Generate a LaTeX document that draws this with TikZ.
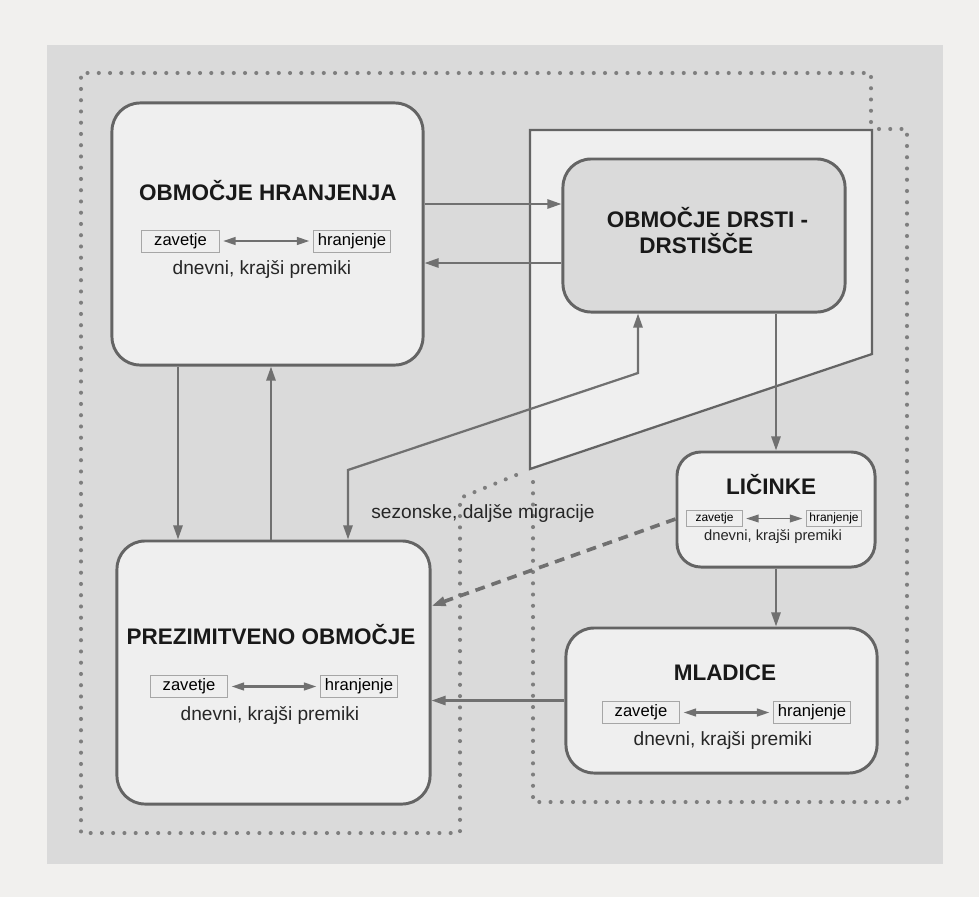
\documentclass[tikz,border=0pt]{standalone}
\usepackage{fontspec}
\setmainfont{Liberation Sans}
\usetikzlibrary{arrows.meta}

\definecolor{papir}{HTML}{F1F0EE}
\definecolor{podlaga}{HTML}{DADADA}
\definecolor{polnilo}{HTML}{EFEFEF}
\definecolor{obroba}{HTML}{646464}
\definecolor{puscica}{HTML}{707070}
\definecolor{pike}{HTML}{7E7E7E}

\tikzset{
  >={Triangle[length=10pt,width=6.5pt]},
  okvir/.style={draw=obroba, line width=2.1pt, fill=polnilo, rounded corners=20pt, inner sep=0pt},
  naslov/.style={font=\bfseries\fontsize{16}{18}\selectfont, text=black!90},
  opis/.style={font=\fontsize{13.6}{16}\selectfont, text=black!85},
  malopis/.style={font=\fontsize{10.5}{12}\selectfont, text=black!85},
  celica/.style={draw=black!35, line width=0.6pt, fill=polnilo, minimum width=1.93cm, minimum height=0.55cm, inner sep=0pt, font=\fontsize{11.8}{14}\selectfont},
  malacelica/.style={celica, minimum width=1.38cm, minimum height=0.38cm, font=\fontsize{8.5}{10}\selectfont},
  povezava/.style={draw=puscica, line width=1.6pt, ->},
  dvojna/.style={draw=puscica, line width=1.6pt, {Triangle[length=9pt,width=5.5pt]}-{Triangle[length=9pt,width=5.5pt]}, shorten >=2.5pt, shorten <=2.5pt},
  meja/.style={draw=pike, line width=2.9pt, line cap=round, dash pattern=on 0pt off 8pt},
  pas/.style={draw=obroba, line width=1.6pt, fill=polnilo},
}

\begin{document}
\begin{tikzpicture}[x=0.025cm,y=-0.025cm]
    % Ozadje
    \useasboundingbox (0,0) rectangle (979,897);
    \fill[papir] (0,0) rectangle (979,897);
    \fill[podlaga] (47,45) rectangle (943,864);
    % Pikcaste meje
    \draw[meja] (871,122) -- (871,73) -- (81,73) -- (81,833) -- (460,833) -- (460,498) -- (526,471);
    \draw[meja] (879,129) -- (907,129) -- (907,802) -- (533,802) -- (533,478);
    % Pas za sezonske migracije
    \draw[pas] (530,130) -- (872,130) -- (872,354) -- (530,469) -- cycle;
    % Obmocja
    \node[okvir, minimum width=7.775cm, minimum height=6.55cm] (hran) at (267.5,234) {};
    \node[okvir, fill=podlaga, minimum width=7.05cm, minimum height=3.825cm] (drst) at (704,235.5) {};
    \node[okvir, minimum width=7.825cm, minimum height=6.575cm] (prez) at (273.5,672.5) {};
    \node[okvir, rounded corners=17pt, minimum width=4.95cm, minimum height=2.875cm] (lic) at (776,509.5) {};
    \node[okvir, minimum width=7.775cm, minimum height=3.625cm] (mlad) at (721.5,700.5) {};
    % Obmocje hranjenja
    \node[naslov] (hranN) at (268,191) {OBMOČJE HRANJENJA};
    \node[celica] (hranZ) at (180.5,241) {zavetje};
    \node[celica] (hranH) at (352,241) {hranjenje};
    \draw[dvojna] (hranZ) -- (hranH);
    \node[opis] (hranD) at (262,270) {dnevni, krajši premiki};
    % Obmocje drsti
    \node[naslov, align=left, anchor=west] (drstN) at (602,230.5) {OBMOČJE DRSTI -\\\hspace*{23pt}DRSTIŠČE};
    % Prezimitveno obmocje
    \node[naslov] (prezN) at (271,635) {PREZIMITVENO OBMOČJE};
    \node[celica] (prezZ) at (189,686.5) {zavetje};
    \node[celica] (prezH) at (359,686.5) {hranjenje};
    \draw[dvojna] (prezZ) -- (prezH);
    \node[opis] (prezD) at (270,716) {dnevni, krajši premiki};
    % Licinke
    \node[naslov] (licN) at (771,485) {LIČINKE};
    \node[malacelica] (licZ) at (714.5,518.5) {zavetje};
    \node[malacelica] (licH) at (834,518.5) {hranjenje};
    \draw[dvojna, line width=1.2pt] (licZ) -- (licH);
    \node[malopis] (licD) at (773,537) {dnevni, krajši premiki};
    % Mladice
    \node[naslov] (mladN) at (725,673) {MLADICE};
    \node[celica] (mladZ) at (641,712.5) {zavetje};
    \node[celica] (mladH) at (812,712.5) {hranjenje};
    \draw[dvojna] (mladZ) -- (mladH);
    \node[opis] (mladD) at (723,741) {dnevni, krajši premiki};
    % Sezonske migracije
    \node[opis] (migr) at (483,514) {sezonske, daljše migracije};
    % Povezave med obmocji
    \draw[povezava] (hran.east |- 0,204) -- (drst.west |- 0,204);
    \draw[povezava] (drst.west |- 0,263) -- (hran.east |- 0,263);
    \draw[povezava] (hran.south -| 178,0) -- (prez.north -| 178,0);
    \draw[povezava] (prez.north -| 271,0) -- (hran.south -| 271,0);
    \draw[povezava, <->] (prez.north -| 348,0) -- (348,470) -- (638,373) -- (drst.south -| 638,0);
    \draw[povezava] (drst.south -| lic.north) -- (lic.north);
    \draw[povezava] (lic.south) -- (lic.south |- mlad.north);
    \draw[povezava] (mlad.west) -- (mlad.west -| prez.east);
    % Licinke v prezimitveno obmocje
    \draw[povezava, line width=2.6pt, dash pattern=on 7pt off 5pt] (lic.west |- 0,519) -- (prez.east |- 0,606);
\end{tikzpicture}
\end{document}
